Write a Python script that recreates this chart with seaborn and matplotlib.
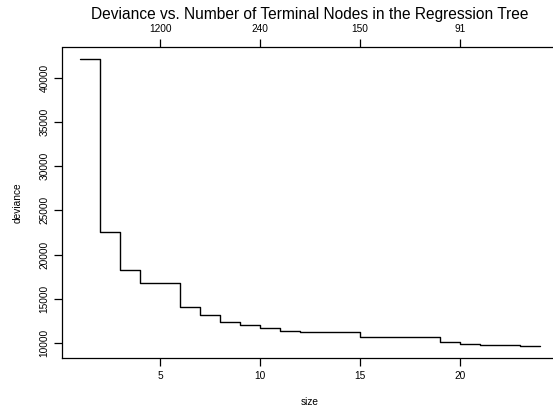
import numpy as np
import pandas as pd
import matplotlib
matplotlib.use('Agg')
import matplotlib.pyplot as plt
import seaborn as sns

# Values
sizes = [1, 2, 3, 4, 6, 7, 8, 9, 10, 11, 12, 15, 19, 20, 21, 22, 23, 24]
deviance = [42100, 22600, 18250, 16810, 14080, 13160, 12440, 12030, 11690,
            11420, 11240, 10680, 10110, 9960, 9840, 9770, 9690, 9680]
bottom_ticks = [5, 10, 15, 20]
top_labels = ['1200', '240', '150', '91']
y_ticks = [10000, 15000, 20000, 25000, 30000, 35000, 40000]

df = pd.DataFrame({'size': sizes, 'deviance': deviance})

sns.set_style('white')
plt.rcParams['font.family'] = ['Liberation Sans', 'DejaVu Sans']
plt.rcParams['text.color'] = 'black'

fig = plt.figure(figsize=(5.53, 4.08), dpi=100)
W, H = 553, 408
left, right, top, bottom = 62, 558.4, 47.5, 357.5
ax = fig.add_axes([left / W, 1 - bottom / H, (right - left) / W, (bottom - top) / H])

sns.lineplot(data=df, x='size', y='deviance', drawstyle='steps-post',
             color='black', linewidth=1.0, ax=ax)

# R-style 4% padding around the data range
xr = max(sizes) - min(sizes)
ax.set_xlim(min(sizes) - 0.04 * xr, max(sizes) + 0.04 * xr)
yr = max(deviance) - min(deviance)
ax.set_ylim(min(deviance) - 0.04 * yr, max(deviance) + 0.04 * yr)

ax.set_xticks(bottom_ticks)
ax.set_xticklabels([str(t) for t in bottom_ticks])
ax.set_yticks(y_ticks)
ax.set_yticklabels([str(t) for t in y_ticks], rotation=90, va='center')
ax.tick_params(axis='both', direction='out', length=6, width=0.9,
               color='black', labelsize=7.3, labelcolor='black',
               bottom=True, left=True)
ax.tick_params(axis='x', pad=4)
ax.tick_params(axis='y', pad=3)

for sp in ax.spines.values():
    sp.set_visible(True)
    sp.set_color('black')
    sp.set_linewidth(0.9)
ax.spines['top'].set_visible(False)

secax = ax.secondary_xaxis('top')
secax.set_xticks(bottom_ticks)
secax.set_xticklabels(top_labels)
secax.tick_params(direction='out', length=6, width=0.9, color='black',
                  labelsize=7.3, labelcolor='black', pad=4, top=True)
secax.spines['top'].set_color('black')
secax.spines['top'].set_linewidth(0.9)

ax.set_xlabel('size', fontsize=7.3, color='black')
ax.set_ylabel('deviance', fontsize=7.3, color='black')
ax.xaxis.set_label_coords(0.5, (H - 402 - (H - bottom)) / (bottom - top))
ax.xaxis.label.set_va('center')
ax.yaxis.set_label_coords((17.5 - left) / (right - left), 0.5)
ax.yaxis.label.set_va('center')

fig.text((left + right) / 2 / W, 1 - 15 / H,
         'Deviance vs. Number of Terminal Nodes in the Regression Tree',
         ha='center', va='center', fontsize=11.2, color='black')

fig.savefig('out.png', dpi=100)
